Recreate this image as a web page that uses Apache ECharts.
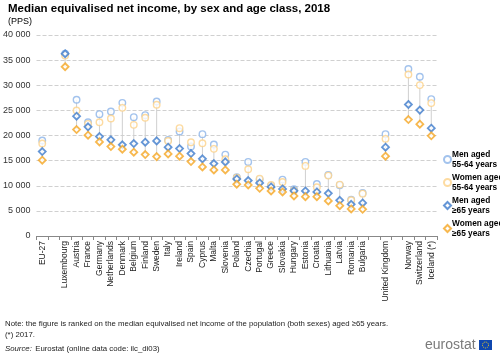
<!DOCTYPE html>
<html><head><meta charset="utf-8">
<script src="https://cdn.jsdelivr.net/npm/echarts@6/dist/echarts.min.js"></script>
<style>html,body{margin:0;padding:0;background:#fff}#c{width:500px;height:355px}</style>
</head><body><div id="c"></div>
<script>
var categories = ['EU-27','','Luxembourg','Austria','France','Germany','Netherlands','Denmark','Belgium','Finland','Sweden','Italy','Ireland','Spain','Cyprus','Malta','Slovenia','Poland','Czechia','Portugal','Greece','Slovakia','Hungary','Estonia','Croatia','Lithuania','Latvia','Romania','Bulgaria','','United Kingdom','','Norway','Switzerland','Iceland (*)'];
var men5564 = [19000,null,36300,27100,22650,24250,24780,26500,23650,24050,26770,19100,20790,17800,20270,18200,16200,11700,14750,11220,10030,11220,9300,14750,10360,12160,10100,7200,8570,null,20270,null,33220,31690,27240];
var women5564 = [18400,null,35900,24980,22320,22650,23380,25500,22120,23520,26110,18900,21460,18670,18470,17340,15280,11600,13290,11420,10160,10760,9000,13950,9700,12020,10230,7100,8430,null,19330,null,32150,30030,26450];
var men65 = [16800,null,36270,23850,21720,19790,19130,18140,18400,18670,18930,17680,17400,16400,15350,14410,14750,11360,11020,10560,9770,9370,9000,8970,8770,8500,7110,6310,6580,null,17680,null,26170,25050,21460];
var women65 = [15090,null,33680,21190,20060,18730,17800,17280,16680,16200,15800,16340,15880,14810,13750,13150,13150,10300,10160,9500,8970,8770,7970,7830,7830,6980,6040,5380,5310,null,15880,null,23180,22260,19930];
var seriesNames = ['Men aged\n55-64 years','Women aged\n55-64 years','Men aged\n≥65 years','Women aged\n≥65 years'];

var ranges = categories.map(function(c,i){
  var v=[men5564[i],women5564[i],men65[i],women65[i]].filter(function(x){return x!=null;});
  if(!v.length) return [i,null,null];
  return [i,Math.min.apply(null,v),Math.max.apply(null,v)];
});

var chart = echarts.init(document.getElementById('c'));
var FF = '"Liberation Sans", Arial, sans-serif';
chart.setOption({
  animation:false,
  textStyle:{fontFamily:FF},
  grid:{left:35,right:63,top:35,bottom:119},
  title:[
    {text:'Median equivalised net income, by sex and age class, 2018',left:3,top:-2,textStyle:{fontFamily:FF,fontSize:11.5,fontWeight:'bold',color:'#000'}},
    {text:'(PPS)',left:3,top:12,textStyle:{fontFamily:FF,fontSize:9,fontWeight:'normal',color:'#000'}}
  ],
  legend:{orient:'vertical',left:438,top:145,itemWidth:7,itemHeight:7,itemGap:4,
    data:seriesNames,
    textStyle:{fontFamily:FF,fontSize:8.3,fontWeight:'bold',color:'#000',lineHeight:9.5,padding:[0,0,0,-4]}},
  xAxis:{type:'category',data:categories,
    axisLine:{lineStyle:{color:'#888'}},
    axisTick:{show:true,length:4,lineStyle:{color:'#888'}},
    axisLabel:{interval:0,rotate:90,fontSize:8.5,color:'#222',fontFamily:FF,margin:5}},
  yAxis:{type:'value',min:0,max:40000,interval:5000,
    axisLabel:{fontSize:9,color:'#333',fontFamily:FF,margin:6,formatter:function(v){return String(v).replace(/\B(?=(\d{3})+(?!\d))/g,' ');}},
    splitLine:{lineStyle:{color:'#d0d0d0',type:'dashed',width:1}},
    axisLine:{show:false},axisTick:{show:false}},
  graphic:[
    {type:'text',left:5,top:320,style:{text:'Note: the figure is ranked on the median equivalised net income of the population (both sexes) aged ≥65 years.',font:'7.8px '+FF,fill:'#222'}},
    {type:'text',left:5,top:331,style:{text:'(*) 2017.',font:'7.8px '+FF,fill:'#222'}},
    {type:'text',left:5,top:343,style:{rich:{i:{fontStyle:'italic',fontSize:7.8,fontFamily:FF,fill:'#222'},n:{fontSize:7.8,fontFamily:FF,fill:'#222'}},text:'{i|Source:} {n|Eurostat (online data code: ilc_di03)}'}},
    {type:'text',left:425,top:338,style:{text:'eurostat',font:'14px '+FF,fill:'#7a7a7a'}},
    {type:'rect',shape:{x:479,y:340,width:13,height:10},style:{fill:'#0f47af'}},
    {type:'circle',shape:{cx:485.5,cy:345,r:3},style:{fill:'none',stroke:'#ffd617',lineWidth:1,lineDash:[1,1]}}
  ],
  series:[
    {type:'custom',silent:true,data:ranges,z:1,
     renderItem:function(params,api){
       if(api.value(1)==null||isNaN(api.value(1))) return;
       var p1=api.coord([api.value(0),api.value(1)]);
       var p2=api.coord([api.value(0),api.value(2)]);
       return {type:'line',shape:{x1:p1[0],y1:p1[1],x2:p2[0],y2:p2[1]},style:{stroke:'#cfcfcf',lineWidth:1}};
     }},
    {name:seriesNames[0],type:'scatter',data:men5564,symbol:'circle',symbolSize:6.5,z:2,
     itemStyle:{color:'#fff',borderColor:'#8cb4e8',borderWidth:1.4}},
    {name:seriesNames[1],type:'scatter',data:women5564,symbol:'circle',symbolSize:6.5,z:3,
     itemStyle:{color:'#fff',borderColor:'#fcd28a',borderWidth:1.4}},
    {name:seriesNames[2],type:'scatter',data:men65,symbol:'diamond',symbolSize:7,z:4,
     itemStyle:{color:'#fff',borderColor:'#3f7ccc',borderWidth:1.8}},
    {name:seriesNames[3],type:'scatter',data:women65,symbol:'diamond',symbolSize:7,z:5,
     itemStyle:{color:'#fff',borderColor:'#f5a623',borderWidth:1.8}}
  ]
});
</script></body></html>
